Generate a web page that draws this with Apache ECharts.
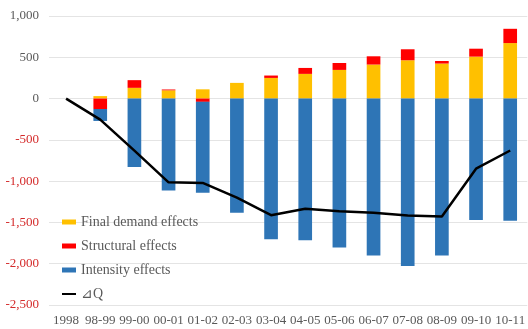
<!DOCTYPE html>
<html>
<head>
<meta charset="UTF-8">
<title>Decomposition</title>
<script type="text/javascript" src="https://cdn.jsdelivr.net/npm/echarts@6/dist/echarts.min.js"></script>
<style>
  body{margin:0}
</style>
</head>
<body>
<div id="main" style="width:528px;height:329px"></div>
<script type="text/javascript">
// categories
var years = ['1998','98-99','99-00','00-01','01-02','02-03','03-04','04-05','05-06','06-07','07-08','08-09','09-10','10-11'];
// series values
var finalDemand = [null, 30, 130, 100, 112, 190, 250, 299, 347, 412, 464, 424, 508, 672];
var structural  = [null, -126, 93, 10, -40, 0, 29, 72, 84, 100, 133, 31, 96, 173];
var intensity   = [null, -145, -829, -1114, -1102, -1383, -1705, -1717, -1805, -1901, -2027, -1901, -1472, -1480];
var deltaQ      = [0, -255, -630, -1014, -1022, -1200, -1412, -1335, -1364, -1383, -1416, -1428, -849, -629];

var myEchart = echarts.init(document.getElementById('main'));

var option = {
  animation: false,
  grid: { left: 49, right: -3, top: 16, bottom: 24 },
  legend: {
    orient: 'vertical',
    left: 62, top: 214,
    padding: 0,
    itemWidth: 14, itemHeight: 5,
    itemGap: 8,
    textStyle: { fontFamily: 'Liberation Serif', fontSize: 14, color: '#595959', lineHeight: 16 },
    data: [
      { name: 'Final demand effects', icon: 'rect' },
      { name: 'Structural effects', icon: 'rect' },
      { name: 'Intensity effects', icon: 'rect' },
      // thin black bar for the line entry
      { name: '⊿Q', icon: 'path://M0,0M0,1.5h14v2H0zM14,5' }
    ]
  },
  xAxis: {
    type: 'category',
    data: years,
    axisLine: { onZero: false, show: false },
    axisTick: { show: false },
    axisLabel: { interval: 0, fontFamily: 'Liberation Serif', fontSize: 13, color: '#595959', margin: 9 }
  },
  yAxis: {
    type: 'value',
    min: -2500, max: 1000, interval: 500,
    axisLine: { show: false },
    axisTick: { show: false },
    splitLine: { lineStyle: { color: '#e4e4e4', width: 1 } },
    axisLabel: {
      fontFamily: 'Liberation Serif', fontSize: 13, margin: 10,
      formatter: function (v) { return v.toLocaleString('en-US'); },
      color: function (v) { return Number(v) < 0 ? '#d42a2a' : '#595959'; }
    }
  },
  series: [
    { name: 'Final demand effects', type: 'bar', stack: 'e', barWidth: '40%',
      itemStyle: { color: '#FFC000' }, data: finalDemand },
    { name: 'Structural effects', type: 'bar', stack: 'e',
      itemStyle: { color: '#FF0000' }, data: structural },
    { name: 'Intensity effects', type: 'bar', stack: 'e',
      itemStyle: { color: '#2E75B6' }, data: intensity },
    { name: '⊿Q', type: 'line', showSymbol: false, symbol: 'none',
      lineStyle: { color: '#000', width: 2.5 }, itemStyle: { color: '#000' },
      data: deltaQ, z: 5 }
  ]
};

myEchart.setOption(option);
</script>
</body>
</html>
